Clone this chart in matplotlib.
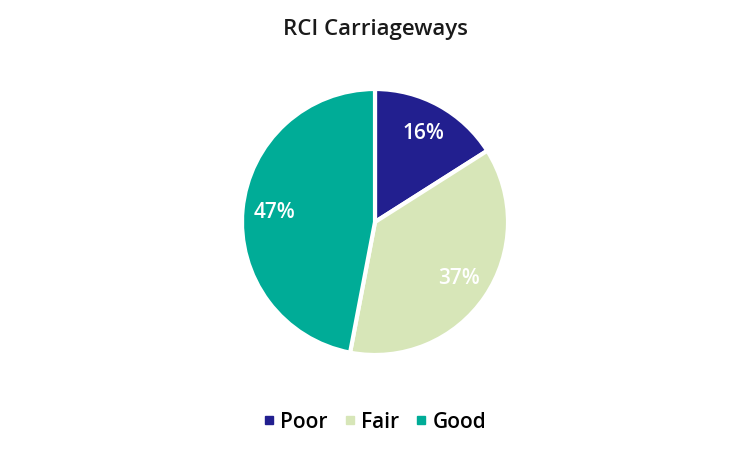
import matplotlib
matplotlib.use("Agg")
import matplotlib.pyplot as plt
from matplotlib.lines import Line2D

categories = ["Poor", "Fair", "Good"]
values = [16, 37, 47]
colors = ["#221F8F", "#D7E6B8", "#00AC97"]
title = "RCI Carriageways"

plt.rcParams['font.family'] = ['Open Sans', 'DejaVu Sans']

fig = plt.figure(figsize=(7.5, 4.5), dpi=100)
ax = fig.add_axes([(375-133)/750, (450-222-133)/450, 266/750, 266/450])
wedges, texts, autotexts = ax.pie(
    values, colors=colors, startangle=90, counterclock=False, radius=1,
    autopct=lambda p: f"{p:.0f}%", pctdistance=0.76,
    wedgeprops=dict(edgecolor="white", linewidth=3, clip_on=False),
    textprops=dict(color="white", fontsize=15, fontweight="semibold"))
ax.set_xlim(-1.0, 1.0)
ax.set_ylim(-1.0, 1.0)
ax.set_aspect('equal')
ax.axis('off')

fig.text(0.5, 1 - 30/450, title, ha='center', va='center', fontsize=16,
         fontweight='semibold', color='#1a1a1a')

handles = [Line2D([0], [0], marker='s', linestyle='none', markersize=5.5,
                  markerfacecolor=c, markeredgecolor=c) for c in colors]
fig.legend(handles, categories, loc='center', bbox_to_anchor=(0.5, 1 - 422/450),
           ncol=3, frameon=False, handlelength=0.5, handletextpad=0.3,
           columnspacing=0.8, prop=dict(size=15, weight='semibold'))

fig.savefig("out.png", dpi=100)
